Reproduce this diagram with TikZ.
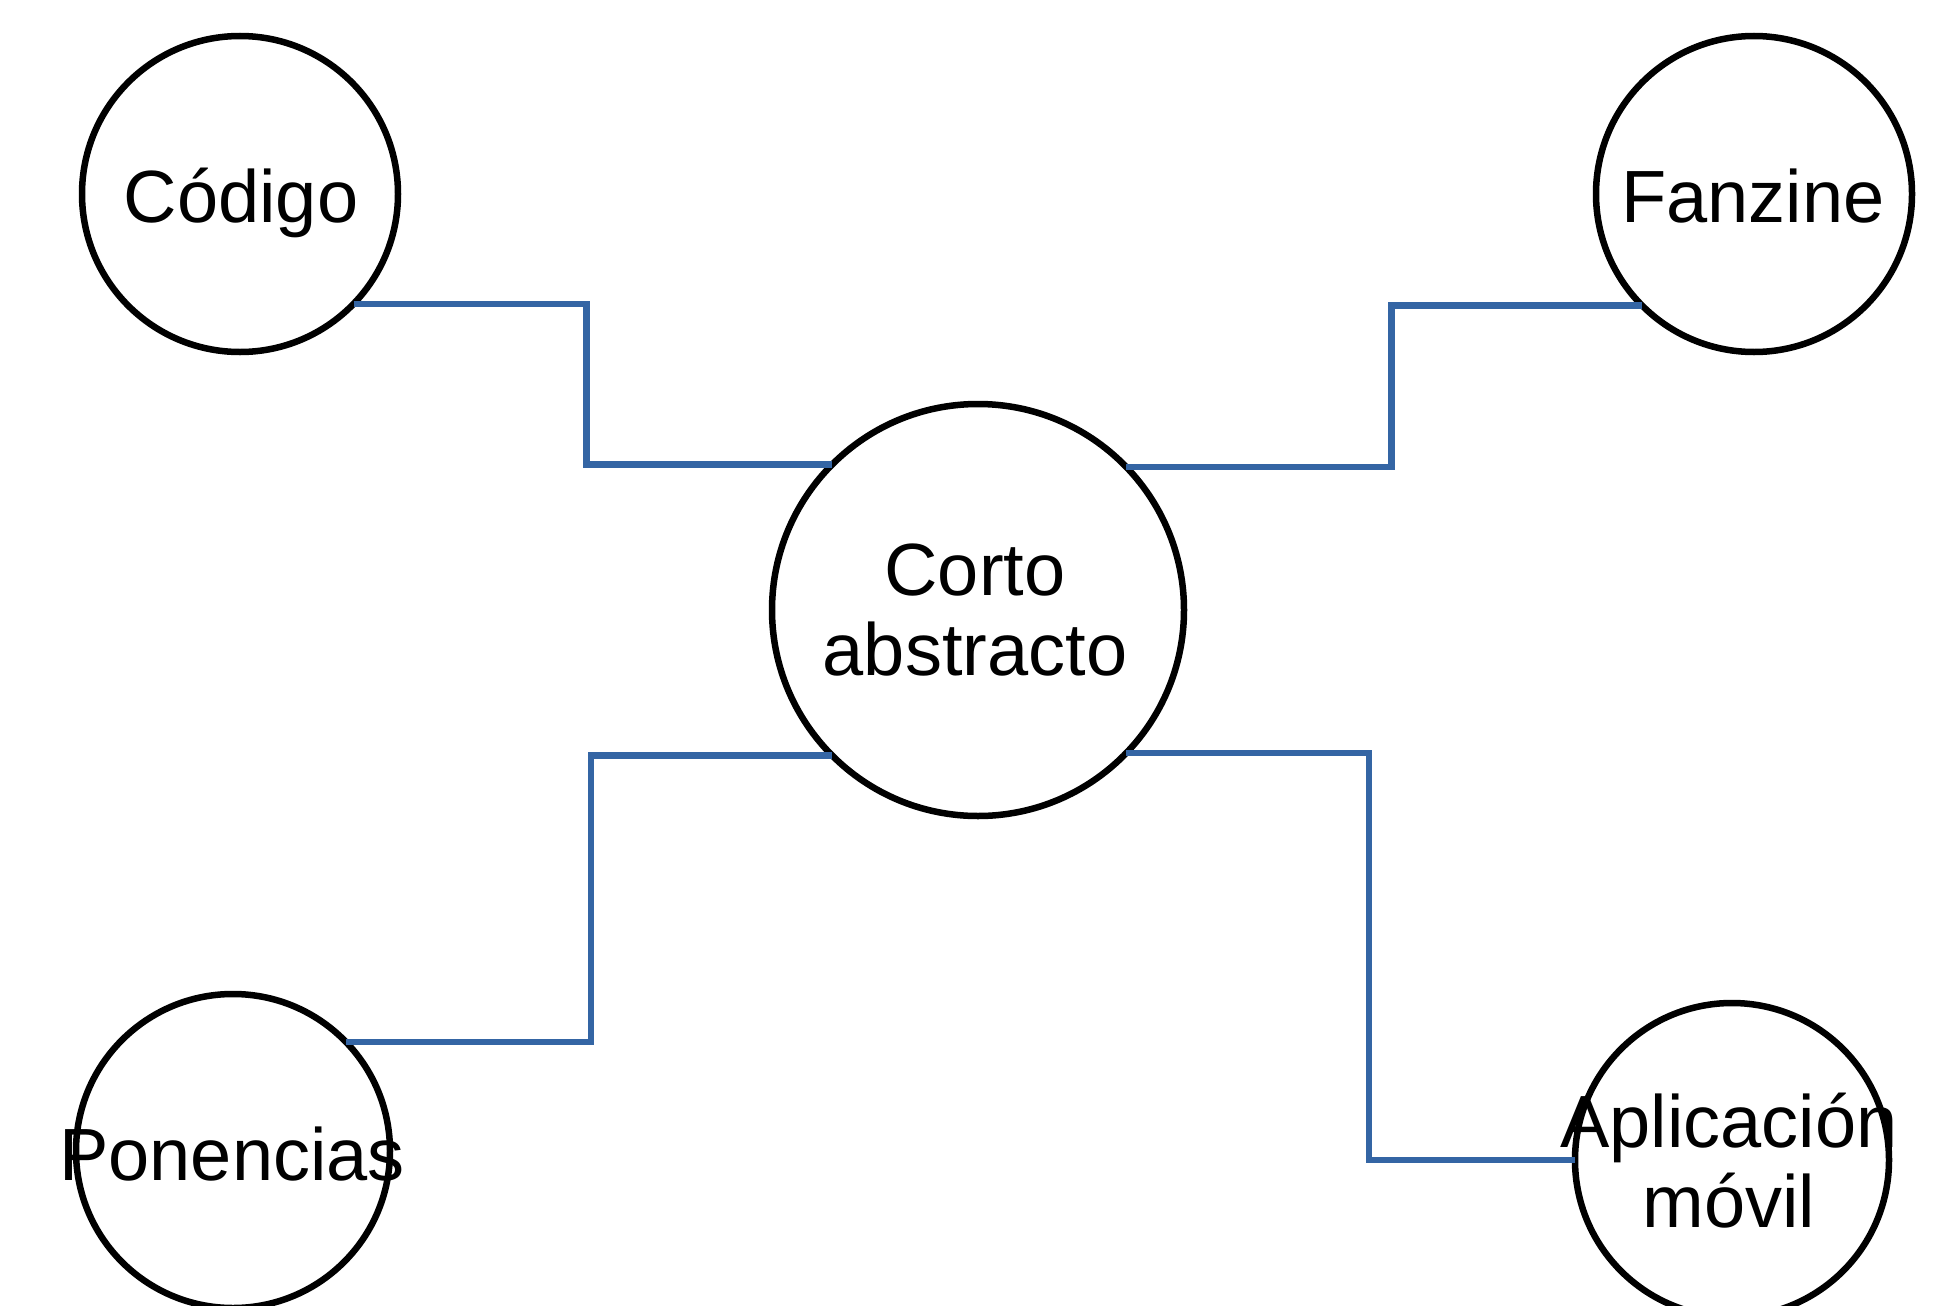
\documentclass[tikz,border=0pt]{standalone}
\usepackage{fontspec}
\setmainfont{Liberation Sans}
\definecolor{linkblue}{RGB}{52,101,164}
\begin{document}
\begin{tikzpicture}[x=1pt,y=-1pt,
  bubble/.style={circle,draw=black,line width=6.5pt,inner sep=0pt,outer sep=0pt,minimum size=#1},
  lbl/.style={anchor=base,align=center,inner sep=0pt,font=\fontsize{74}{80}\selectfont},
  link/.style={draw=linkblue,line width=6.5pt}]
\useasboundingbox (0,0) rectangle (1954,1306);
\fill[white] (0,0) rectangle (1954,1306);
% circles
\node[bubble=316] (cod) at (240,194) {};
\node[bubble=316] (fz)  at (1754,194) {};
\node[bubble=412] (ca)  at (978,610) {};
\node[bubble=314] (pon) at (233,1151) {};
\node[bubble=314] (app) at (1732,1160) {};
% connectors
\draw[link] (cod.-44.6) -- ++(233,0) |- (ca.135.3);
\draw[link] (fz.-135.2) -- ++(-251,0) |- (ca.44.7);
\draw[link] (pon.44) -- ++(245,0) |- (ca.-135.7);
\draw[link] (ca.-44.3) -- ++(243,0) |- (app.west);
% labels
\node[lbl] (tcod) at (241,222) {Código};
\node[lbl] (tfz)  at (1753,222) {Fanzine};
\node[lbl] (tca)  at (975,675) {Corto\\abstracto};
\node[lbl] (tpon) at (232,1180) {Ponencias};
\node[lbl] (tapp) at (1729,1227) {Aplicación\\móvil};
\end{tikzpicture}
\end{document}
